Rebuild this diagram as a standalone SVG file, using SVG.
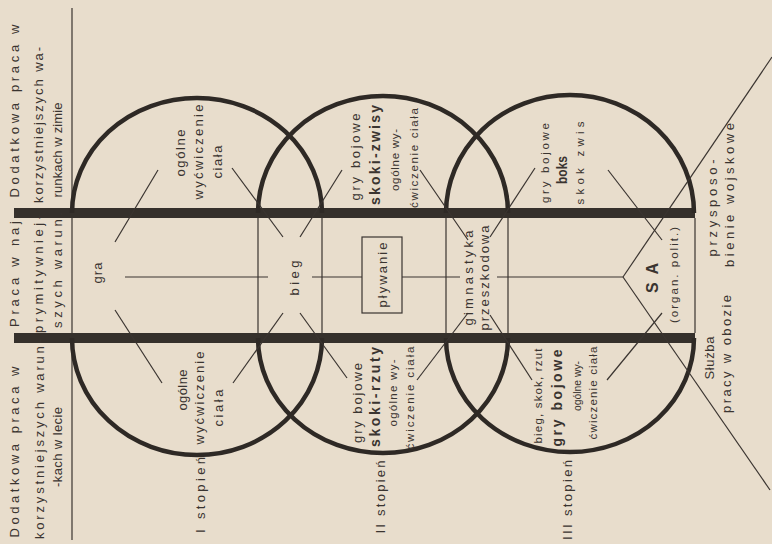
<svg xmlns="http://www.w3.org/2000/svg" width="772" height="544" viewBox="0 0 772 544">
<style>
.t{font-family:"Liberation Sans",Arial,sans-serif;font-size:13px;fill:#3a3430;text-anchor:middle;dominant-baseline:central}
.s{font-size:11.5px}
.b{font-weight:bold;font-size:14px}
.thin{stroke:#3a3430;stroke-width:1.2;fill:none}
.arc{stroke:#2e2925;stroke-width:4.5;fill:none}
.bar{fill:#35302b}
.box{stroke:#3a3430;stroke-width:1.2;fill:none}
</style>
<rect width="772" height="544" fill="#e8ddcc"/>

<g id="frame">
  <line class="thin" x1="72" y1="8" x2="72" y2="540"/>
  <rect class="bar" x="14" y="208" width="681" height="10"/>
  <rect class="bar" x="14" y="333" width="681" height="10"/>
  <line class="thin" x1="258" y1="218" x2="258" y2="333"/>
  <line class="thin" x1="322" y1="218" x2="322" y2="333"/>
  <line class="thin" x1="446" y1="218" x2="446" y2="333"/>
  <line class="thin" x1="508" y1="218" x2="508" y2="333"/>
  <line class="thin" x1="695" y1="218" x2="695" y2="333"/>
</g>

<g id="circle1">
  <path class="arc" d="M72,213 A125,115 0 0 1 322,213"/>
  <path class="arc" d="M72,338 A125,117 0 0 0 322,338"/>
  <text class="t" transform="translate(180,153) rotate(-90)" textLength="47">ogólne</text>
  <text class="t" transform="translate(198,152) rotate(-90)" textLength="95">wyćwiczenie</text>
  <text class="t" transform="translate(217,162) rotate(-90)" textLength="33">ciała</text>
  <text class="t" transform="translate(182,390) rotate(-90)" textLength="41">ogólne</text>
  <text class="t" transform="translate(199,398) rotate(-90)" textLength="93">wyćwiczenie</text>
  <text class="t" transform="translate(218,408) rotate(-90)" textLength="37">ciała</text>
  <text class="t" transform="translate(200,495) rotate(-90)" textLength="76">I stopień</text>
</g>

<g id="circle2">
  <path class="arc" d="M258,213 A125,117 0 0 1 508,213"/>
  <path class="arc" d="M258,338 A125,115 0 0 0 508,338"/>
  <text class="t" transform="translate(355,157) rotate(-90)" textLength="87">gry bojowe</text>
  <text class="t b" transform="translate(375,155) rotate(-90)" textLength="100">skoki-zwisy</text>
  <text class="t s" transform="translate(395,160) rotate(-90)" textLength="62">ogólne wy-</text>
  <text class="t s" transform="translate(414,158) rotate(-90)" textLength="100">ćwiczenie ciała</text>
  <text class="t" transform="translate(357,403) rotate(-90)" textLength="80">gry bojowe</text>
  <text class="t b" transform="translate(375,397) rotate(-90)" textLength="100">skoki-rzuty</text>
  <text class="t s" transform="translate(393,393) rotate(-90)" textLength="67">ogólne wy-</text>
  <text class="t s" transform="translate(410,398) rotate(-90)" textLength="103">ćwiczenie ciała</text>
  <text class="t" transform="translate(380,497) rotate(-90)" textLength="73">II stopień</text>
</g>

<g id="circle3">
  <path class="arc" d="M446,213 A124,118 0 0 1 694,213"/>
  <path class="arc" d="M446,338 A124,114 0 0 0 694,338"/>
  <text class="t s" transform="translate(545,163) rotate(-90)" textLength="80">gry bojowe</text>
  <text class="t b" transform="translate(562,170) rotate(-90)" textLength="28" lengthAdjust="spacingAndGlyphs">boks</text>
  <text class="t s" transform="translate(580,163) rotate(-90)" textLength="83">skok zwis</text>
  <text class="t s" transform="translate(538,396) rotate(-90)" textLength="95">bieg, skok, rzut</text>
  <text class="t b" transform="translate(557,398) rotate(-90)" textLength="97">gry bojowe</text>
  <text class="t s" transform="translate(577,386) rotate(-90)" textLength="50" lengthAdjust="spacingAndGlyphs">ogólne wy-</text>
  <text class="t s" transform="translate(593,393) rotate(-90)" textLength="93">ćwiczenie ciała</text>
  <text class="t" transform="translate(567,500) rotate(-90)" textLength="80">III stopień</text>
</g>

<g id="left-notes">
  <text class="t" transform="translate(14,111) rotate(-90)" textLength="173">Dodatkowa praca w</text>
  <text class="t" transform="translate(38,125) rotate(-90)" textLength="156">korzystniejszych wa-</text>
  <text class="t" transform="translate(57,150) rotate(-90)" textLength="95">runkach w zimie</text>
  <text class="t" transform="translate(14,270) rotate(-90)" textLength="114">Praca w naj-</text>
  <text class="t" transform="translate(38,274) rotate(-90)" textLength="118">prymitywniej-</text>
  <text class="t" transform="translate(57,270) rotate(-90)" textLength="116">szych warun.</text>
  <text class="t" transform="translate(14,452) rotate(-90)" textLength="171">Dodatkowa praca w</text>
  <text class="t" transform="translate(39,439) rotate(-90)" textLength="200">korzystniejszych warun-</text>
  <text class="t" transform="translate(57,447) rotate(-90)" textLength="80">-kach w lecie</text>
</g>

<g id="node-gra"><text class="t" transform="translate(97,273) rotate(-90)" textLength="21">gra</text></g>
<g id="node-bieg"><text class="t" transform="translate(294,278) rotate(-90)" textLength="35">bieg</text></g>
<g id="node-plywanie">
  <rect class="box" x="362" y="237" width="40" height="76"/>
  <text class="t" transform="translate(382,275) rotate(-90)" textLength="65">pływanie</text>
</g>
<g id="node-gimnastyka">
  <text class="t" transform="translate(468,278) rotate(-90)" textLength="95">gimnastyka</text>
  <text class="t" transform="translate(484,278) rotate(-90)" textLength="105">przeszkodowa</text>
</g>
<g id="node-sa">
  <text class="t b" transform="translate(652,278) rotate(-90)" textLength="30" style="font-size:16px">SA</text>
  <text class="t s" transform="translate(674,275) rotate(-90)" textLength="96">(organ. polit.)</text>
</g>
<g id="node-sluzba">
  <text class="t" transform="translate(709,358) rotate(-90)" textLength="43">Służba</text>
  <text class="t" transform="translate(726,354) rotate(-90)" textLength="118">pracy w obozie</text>
</g>
<g id="node-przysposobienie">
  <text class="t" transform="translate(712,208) rotate(-90)" textLength="97">przysposo-</text>
  <text class="t" transform="translate(729,195) rotate(-90)" textLength="144">bienie wojskowe</text>
</g>

<g id="connectors">
  <line class="thin" x1="125" y1="277" x2="268" y2="277"/>
  <line class="thin" x1="312" y1="277" x2="362" y2="277"/>
  <line class="thin" x1="402" y1="277" x2="460" y2="277"/>
  <line class="thin" x1="497" y1="277" x2="623" y2="277"/>
  <line class="thin" x1="623" y1="277" x2="772" y2="57"/>
  <line class="thin" x1="623" y1="277" x2="770" y2="490"/>
  <line class="thin" x1="158" y1="170" x2="115" y2="242"/>
  <line class="thin" x1="232" y1="168" x2="283" y2="237"/>
  <line class="thin" x1="115" y1="310" x2="162" y2="383"/>
  <line class="thin" x1="283" y1="313" x2="233" y2="383"/>
  <line class="thin" x1="342" y1="170" x2="300" y2="237"/>
  <line class="thin" x1="420" y1="170" x2="468" y2="240"/>
  <line class="thin" x1="300" y1="313" x2="347" y2="378"/>
  <line class="thin" x1="468" y1="313" x2="417" y2="380"/>
  <line class="thin" x1="535" y1="168" x2="490" y2="237"/>
  <line class="thin" x1="608" y1="170" x2="662" y2="240"/>
  <line class="thin" x1="490" y1="315" x2="532" y2="380"/>
  <line class="thin" x1="662" y1="313" x2="607" y2="380"/>
</g>
</svg>
